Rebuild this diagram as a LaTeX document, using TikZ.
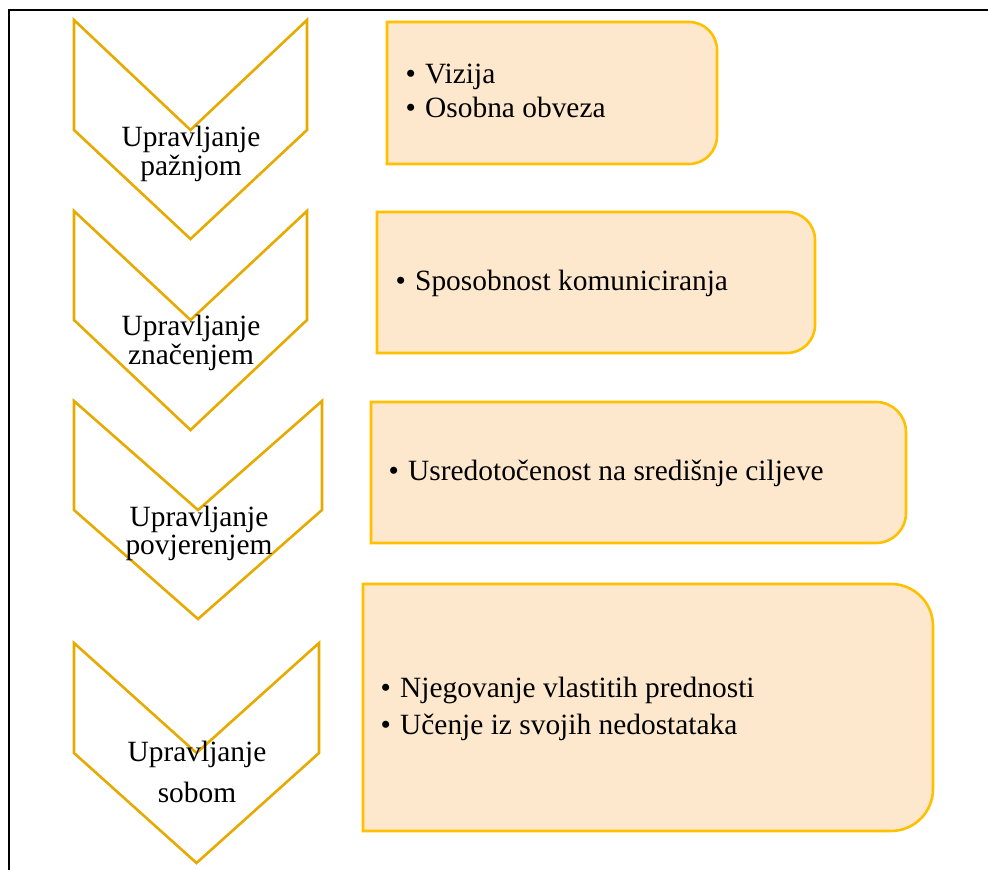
\documentclass[tikz,border=0pt]{standalone}
\usepackage{fontspec}
\setmainfont{Liberation Serif}
\definecolor{chevgold}{RGB}{230,170,0}
\definecolor{boxgold}{RGB}{255,192,0}
\definecolor{boxfill}{RGB}{253,232,206}
\newcommand{\mychevron}[6]{% L, R, C, Top, depth, Bottom
  \draw[chevline] (#1,#4) -- (#3,#4-#5) -- (#2,#4) -- (#2,#4-#5) -- (#3,#6) -- (#1,#4-#5) -- cycle;}
\newcommand{\mybox}[5]{% L, R, T, B, r
  \draw[boxline] (#1,#3) -- (#2-#5,#3) arc[start angle=90,end angle=0,radius=#5]
    -- (#2,#4+#5) arc[start angle=0,end angle=-90,radius=#5] -- (#1,#4) -- cycle;}
\tikzset{
  chevline/.style={draw=chevgold, line width=2.6pt, line join=miter, fill=white},
  boxline/.style={draw=boxgold, line width=2.6pt, fill=boxfill},
  frameline/.style={draw=black, line width=2.2pt},
  lbl/.style={inner sep=0pt, anchor=base, font=\fontsize{29.4}{29.4}\selectfont},
  itm/.style={inner sep=0pt, anchor=base west, font=\fontsize{29.4}{29.4}\selectfont},
}
\newcommand{\bul}{\makebox[19.5pt][l]{•}}
\begin{document}
\begin{tikzpicture}[x=1pt,y=1pt]
\useasboundingbox (0,0) rectangle (988,870);
% frame
\draw[frameline] (9,0) -- (9,860) -- (988,860);
% chevrons
\mychevron{74}{307}{190.5}{850}{110}{631}
\mychevron{74}{307}{190.5}{659}{109}{440}
\mychevron{74}{322}{198}{469}{109}{251}
\mychevron{74}{319}{196.5}{227}{110}{7}
% boxes
\mybox{387}{717}{848}{706}{28}
\mybox{377}{815}{658}{517}{28}
\mybox{371}{906}{468}{327}{30}
\mybox{363}{933}{286}{39}{42}
% chevron labels
\node[lbl] (c1a) at (191,723) {Upravljanje};
\node[lbl] (c1b) at (191,694) {pažnjom};
\node[lbl] (c2a) at (191,534) {Upravljanje};
\node[lbl] (c2b) at (191,505) {značenjem};
\node[lbl] (c3a) at (199,343) {Upravljanje};
\node[lbl] (c3b) at (199,315) {povjerenjem};
\node[lbl] (c4a) at (197,108) {Upravljanje};
\node[lbl] (c4b) at (197,67) {sobom};
% box items
\node[itm] (b1a) at (405.5,786) {\bul Vizija};
\node[itm] (b1b) at (405.5,752) {\bul Osobna obveza};
\node[itm] (b2a) at (395.5,579) {\bul Sposobnost komuniciranja};
\node[itm] (b3a) at (388.5,389) {\bul Usredotočenost na središnje ciljeve};
\node[itm] (b4a) at (380.5,172) {\bul Njegovanje vlastitih prednosti};
\node[itm] (b4b) at (380.5,135) {\bul Učenje iz svojih nedostataka};
\end{tikzpicture}
\end{document}
